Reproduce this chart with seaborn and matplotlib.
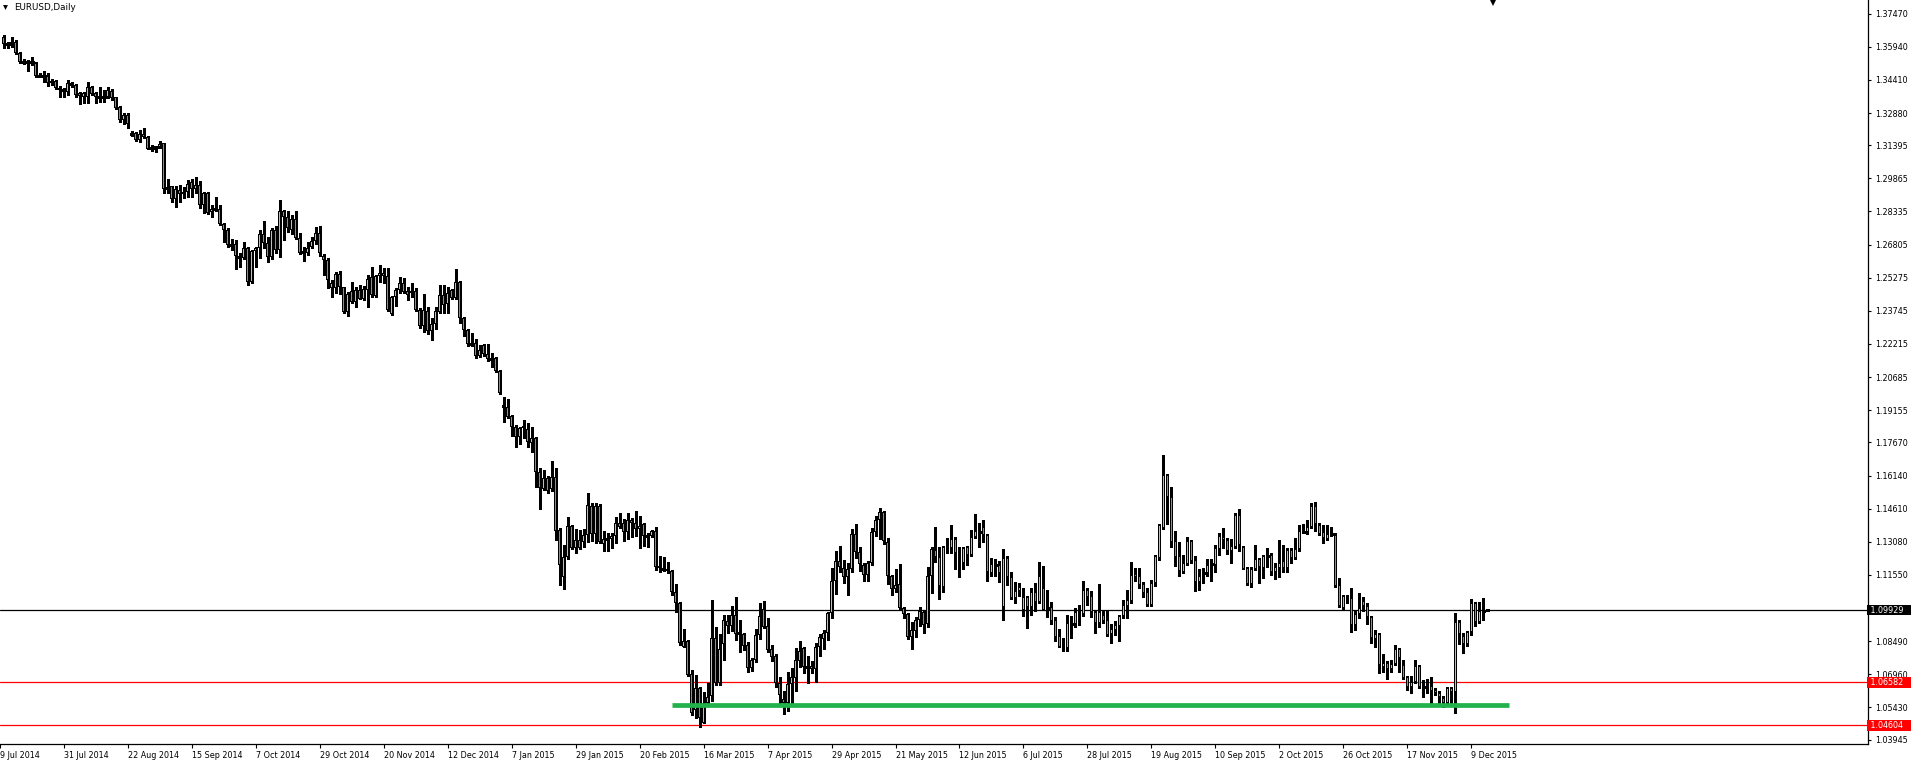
import matplotlib
matplotlib.use("Agg")
import matplotlib.pyplot as plt
import seaborn as sns
import pandas as pd
from matplotlib.lines import Line2D
from matplotlib.transforms import blended_transform_factory

# EURUSD daily candles, 10 Jul 2014 .. 11 Dec 2015 (one row of ten per line)
open_px = [
    1.3638, 1.3607, 1.3605, 1.3615, 1.3567, 1.3525, 1.3525, 1.3524, 1.3519, 1.3459,
    1.3458, 1.3458, 1.3436, 1.3436, 1.3405, 1.3396, 1.3384, 1.3425, 1.3416, 1.3381,
    1.3361, 1.3361, 1.3407, 1.3379, 1.3364, 1.3362, 1.3361, 1.3390, 1.3361, 1.3316,
    1.3254, 1.3278, 1.3190, 1.3194, 1.3162, 1.3191, 1.3177, 1.3128, 1.3131, 1.3130,
    1.3148, 1.2943, 1.2950, 1.2890, 1.2931, 1.2913, 1.2923, 1.2968, 1.2936, 1.2954,
    1.2862, 1.2917, 1.2830, 1.2846, 1.2845, 1.2774, 1.2748, 1.2680, 1.2682, 1.2623,
    1.2617, 1.2663, 1.2506, 1.2650, 1.2663, 1.2728, 1.2686, 1.2622, 1.2748, 1.2655,
    1.2836, 1.2807, 1.2748, 1.2797, 1.2710, 1.2644, 1.2640, 1.2671, 1.2697, 1.2733,
    1.2628, 1.2609, 1.2479, 1.2479, 1.2543, 1.2485, 1.2371, 1.2466, 1.2414, 1.2471,
    1.2431, 1.2471, 1.2531, 1.2445, 1.2534, 1.2549, 1.2535, 1.2359, 1.2437, 1.2469,
    1.2502, 1.2466, 1.2455, 1.2466, 1.2380, 1.2306, 1.2374, 1.2281, 1.2312, 1.2368,
    1.2448, 1.2405, 1.2471, 1.2432, 1.2507, 1.2340, 1.2286, 1.2221, 1.2225, 1.2167,
    1.2215, 1.2174, 1.2152, 1.2158, 1.2098, 1.1935, 1.1929, 1.1889, 1.1837, 1.1791,
    1.1841, 1.1827, 1.1766, 1.1786, 1.1629, 1.1550, 1.1601, 1.1550, 1.1606, 1.1362,
    1.1147, 1.1236, 1.1381, 1.1281, 1.1315, 1.1306, 1.1339, 1.1475, 1.1344, 1.1475,
    1.1298, 1.1320, 1.1320, 1.1335, 1.1396, 1.1393, 1.1352, 1.1407, 1.1393, 1.1366,
    1.1389, 1.1336, 1.1336, 1.1358, 1.1196, 1.1181, 1.1181, 1.1173, 1.1075, 1.1025,
    1.0824, 1.0850, 1.0696, 1.0531, 1.0631, 1.0470, 1.0562, 1.0596, 1.0862, 1.0657,
    1.0835, 1.0942, 1.0921, 1.0970, 1.0885, 1.0882, 1.0831, 1.0727, 1.0762, 1.0878,
    1.0996, 1.0919, 1.0812, 1.0781, 1.0655, 1.0581, 1.0565, 1.0650, 1.0680, 1.0759,
    1.0816, 1.0731, 1.0734, 1.0722, 1.0821, 1.0860, 1.0885, 1.0978, 1.1126, 1.1221,
    1.1188, 1.1144, 1.1181, 1.1343, 1.1262, 1.1201, 1.1153, 1.1209, 1.1352, 1.1409,
    1.1444, 1.1308, 1.1149, 1.1089, 1.1112, 1.1001, 1.0975, 1.0870, 1.0898, 1.0947,
    1.0984, 1.0927, 1.1150, 1.1269, 1.1236, 1.1098, 1.1289, 1.1278, 1.1321, 1.1266,
    1.1209, 1.1283, 1.1246, 1.1332, 1.1353, 1.1375, 1.1339, 1.1162, 1.1200, 1.1200,
    1.1006, 1.1232, 1.1144, 1.1050, 1.1079, 1.0993, 1.1053, 1.1008, 1.1075, 1.1031,
    1.1093, 1.1002, 1.1005, 1.0947, 1.0873, 1.0830, 1.0819, 1.0928, 1.0927, 1.0973,
    1.0976, 1.1084, 1.1056, 1.0984, 1.0932, 1.0970, 1.0947, 1.0881, 1.0901, 1.0921,
    1.0964, 1.1013, 1.1036, 1.1159, 1.1149, 1.1113, 1.1076, 1.1017, 1.1116, 1.1235,
    1.1373, 1.1615, 1.1513, 1.1310, 1.1242, 1.1167, 1.1205, 1.1310, 1.1223, 1.1121,
    1.1165, 1.1165, 1.1204, 1.1202, 1.1276, 1.1330, 1.1316, 1.1267, 1.1286, 1.1432,
    1.1286, 1.1186, 1.1114, 1.1184, 1.1227, 1.1186, 1.1240, 1.1245, 1.1170, 1.1188,
    1.1218, 1.1186, 1.1270, 1.1235, 1.1273, 1.1355, 1.1355, 1.1375, 1.1472, 1.1386,
    1.1353, 1.1322, 1.1343, 1.1338, 1.1107, 1.1001, 1.1053, 1.1047, 1.0922, 1.0973,
    1.1033, 1.1013, 1.0961, 1.0860, 1.0882, 1.0728, 1.0748, 1.0722, 1.0744, 1.0811,
    1.0738, 1.0682, 1.0639, 1.0660, 1.0733, 1.0636, 1.0630, 1.0641, 1.0622, 1.0608,
    1.0587, 1.0562, 1.0631, 1.0613, 1.0936, 1.0874, 1.0835, 1.0890, 1.1024, 1.0936,
    1.0987, 1.0993,
]
high_px = [
    1.3648, 1.3617, 1.3638, 1.3625, 1.3571, 1.3536, 1.3533, 1.3545, 1.3525, 1.3471,
    1.3482, 1.3471, 1.3444, 1.3441, 1.3413, 1.3402, 1.3441, 1.3431, 1.3421, 1.3387,
    1.3385, 1.3433, 1.3413, 1.3385, 1.3410, 1.3394, 1.3410, 1.3398, 1.3363, 1.3320,
    1.3287, 1.3287, 1.3206, 1.3202, 1.3210, 1.3218, 1.3182, 1.3140, 1.3137, 1.3159,
    1.3151, 1.2982, 1.2952, 1.2952, 1.2956, 1.2948, 1.2979, 1.2983, 1.2991, 1.2976,
    1.2925, 1.2925, 1.2863, 1.2899, 1.2863, 1.2779, 1.2756, 1.2706, 1.2702, 1.2640,
    1.2694, 1.2671, 1.2656, 1.2671, 1.2748, 1.2789, 1.2717, 1.2756, 1.2765, 1.2886,
    1.2840, 1.2836, 1.2817, 1.2836, 1.2735, 1.2671, 1.2694, 1.2717, 1.2763, 1.2766,
    1.2636, 1.2617, 1.2517, 1.2555, 1.2560, 1.2486, 1.2463, 1.2509, 1.2486, 1.2494,
    1.2491, 1.2541, 1.2578, 1.2540, 1.2586, 1.2571, 1.2571, 1.2443, 1.2479, 1.2532,
    1.2525, 1.2486, 1.2502, 1.2479, 1.2389, 1.2452, 1.2394, 1.2343, 1.2394, 1.2494,
    1.2494, 1.2483, 1.2475, 1.2568, 1.2512, 1.2348, 1.2289, 1.2271, 1.2243, 1.2217,
    1.2220, 1.2220, 1.2181, 1.2163, 1.2101, 1.1975, 1.1967, 1.1894, 1.1847, 1.1840,
    1.1870, 1.1858, 1.1840, 1.1793, 1.1647, 1.1639, 1.1612, 1.1681, 1.1647, 1.1370,
    1.1293, 1.1424, 1.1384, 1.1366, 1.1362, 1.1366, 1.1532, 1.1486, 1.1489, 1.1482,
    1.1358, 1.1347, 1.1347, 1.1424, 1.1440, 1.1412, 1.1442, 1.1416, 1.1450, 1.1427,
    1.1393, 1.1350, 1.1361, 1.1378, 1.1242, 1.1239, 1.1216, 1.1178, 1.1113, 1.1029,
    1.0904, 1.0854, 1.0716, 1.0694, 1.0639, 1.0616, 1.0655, 1.1039, 1.0916, 1.0882,
    1.0970, 1.0970, 1.1012, 1.1054, 1.0947, 1.0888, 1.0847, 1.0770, 1.0904, 1.1027,
    1.1035, 1.0955, 1.0831, 1.0790, 1.0682, 1.0620, 1.0705, 1.0724, 1.0816, 1.0850,
    1.0821, 1.0781, 1.0757, 1.0839, 1.0881, 1.0901, 1.0985, 1.1186, 1.1265, 1.1289,
    1.1224, 1.1209, 1.1366, 1.1390, 1.1285, 1.1209, 1.1221, 1.1370, 1.1427, 1.1463,
    1.1450, 1.1324, 1.1156, 1.1181, 1.1204, 1.1006, 1.0978, 1.0939, 1.0962, 1.1008,
    1.0990, 1.1190, 1.1283, 1.1375, 1.1283, 1.1290, 1.1324, 1.1386, 1.1329, 1.1283,
    1.1285, 1.1289, 1.1362, 1.1436, 1.1393, 1.1409, 1.1342, 1.1235, 1.1229, 1.1219,
    1.1275, 1.1244, 1.1170, 1.1124, 1.1119, 1.1096, 1.1058, 1.1093, 1.1119, 1.1213,
    1.1196, 1.1085, 1.1030, 1.0962, 1.0904, 1.0865, 1.0970, 1.0965, 1.1004, 1.1016,
    1.1127, 1.1093, 1.1081, 1.0993, 1.1113, 1.0993, 1.0990, 1.0928, 1.0944, 1.0970,
    1.1039, 1.1085, 1.1213, 1.1188, 1.1186, 1.1122, 1.1093, 1.1132, 1.1248, 1.1390,
    1.1709, 1.1621, 1.1562, 1.1359, 1.1306, 1.1247, 1.1332, 1.1316, 1.1244, 1.1182,
    1.1186, 1.1229, 1.1229, 1.1293, 1.1350, 1.1373, 1.1327, 1.1320, 1.1442, 1.1458,
    1.1290, 1.1190, 1.1190, 1.1293, 1.1232, 1.1247, 1.1278, 1.1258, 1.1209, 1.1316,
    1.1293, 1.1278, 1.1278, 1.1324, 1.1386, 1.1389, 1.1409, 1.1486, 1.1490, 1.1393,
    1.1386, 1.1384, 1.1378, 1.1347, 1.1139, 1.1062, 1.1062, 1.1093, 1.0988, 1.1070,
    1.1052, 1.1024, 1.0965, 1.0901, 1.0888, 1.0790, 1.0757, 1.0762, 1.0831, 1.0816,
    1.0762, 1.0688, 1.0690, 1.0762, 1.0738, 1.0670, 1.0673, 1.0685, 1.0631, 1.0620,
    1.0596, 1.0636, 1.0639, 1.0978, 1.0947, 1.0885, 1.0897, 1.1044, 1.1029, 1.1029,
    1.1047, 1.0998,
]
low_px = [
    1.3587, 1.3587, 1.3594, 1.3561, 1.3518, 1.3514, 1.3484, 1.3510, 1.3453, 1.3453,
    1.3433, 1.3414, 1.3417, 1.3399, 1.3361, 1.3363, 1.3371, 1.3407, 1.3363, 1.3330,
    1.3333, 1.3336, 1.3371, 1.3336, 1.3338, 1.3340, 1.3356, 1.3348, 1.3308, 1.3247,
    1.3236, 1.3218, 1.3182, 1.3157, 1.3156, 1.3171, 1.3121, 1.3114, 1.3110, 1.3125,
    1.2917, 1.2917, 1.2876, 1.2855, 1.2879, 1.2894, 1.2902, 1.2902, 1.2917, 1.2848,
    1.2828, 1.2822, 1.2809, 1.2837, 1.2770, 1.2694, 1.2671, 1.2656, 1.2566, 1.2578,
    1.2613, 1.2495, 1.2504, 1.2578, 1.2617, 1.2663, 1.2601, 1.2614, 1.2640, 1.2622,
    1.2702, 1.2740, 1.2729, 1.2706, 1.2637, 1.2606, 1.2632, 1.2663, 1.2683, 1.2628,
    1.2540, 1.2479, 1.2437, 1.2456, 1.2452, 1.2363, 1.2351, 1.2409, 1.2391, 1.2428,
    1.2425, 1.2394, 1.2440, 1.2440, 1.2509, 1.2502, 1.2375, 1.2355, 1.2397, 1.2456,
    1.2458, 1.2423, 1.2440, 1.2375, 1.2297, 1.2278, 1.2266, 1.2240, 1.2289, 1.2363,
    1.2366, 1.2363, 1.2428, 1.2428, 1.2317, 1.2258, 1.2212, 1.2214, 1.2158, 1.2163,
    1.2166, 1.2143, 1.2117, 1.2091, 1.1991, 1.1863, 1.1881, 1.1797, 1.1747, 1.1758,
    1.1786, 1.1747, 1.1724, 1.1562, 1.1458, 1.1547, 1.1535, 1.1544, 1.1316, 1.1108,
    1.1091, 1.1227, 1.1273, 1.1258, 1.1273, 1.1285, 1.1306, 1.1313, 1.1301, 1.1301,
    1.1267, 1.1267, 1.1278, 1.1301, 1.1370, 1.1313, 1.1320, 1.1332, 1.1335, 1.1278,
    1.1289, 1.1285, 1.1332, 1.1178, 1.1170, 1.1173, 1.1165, 1.1062, 1.0985, 1.0831,
    1.0821, 1.0688, 1.0508, 1.0493, 1.0454, 1.0470, 1.0554, 1.0574, 1.0647, 1.0647,
    1.0762, 1.0888, 1.0896, 1.0854, 1.0798, 1.0808, 1.0708, 1.0713, 1.0754, 1.0859,
    1.0908, 1.0800, 1.0759, 1.0636, 1.0562, 1.0513, 1.0528, 1.0562, 1.0620, 1.0731,
    1.0701, 1.0657, 1.0704, 1.0662, 1.0781, 1.0813, 1.0854, 1.0957, 1.1067, 1.1170,
    1.1119, 1.1062, 1.1170, 1.1235, 1.1173, 1.1128, 1.1128, 1.1201, 1.1336, 1.1320,
    1.1296, 1.1113, 1.1062, 1.1077, 1.0998, 1.0955, 1.0859, 1.0813, 1.0870, 1.0921,
    1.0885, 1.0913, 1.1073, 1.1216, 1.1045, 1.1077, 1.1255, 1.1255, 1.1181, 1.1147,
    1.1181, 1.1201, 1.1242, 1.1327, 1.1285, 1.1308, 1.1128, 1.1151, 1.1151, 1.1124,
    1.0947, 1.1108, 1.1044, 1.1027, 1.1059, 1.0967, 1.0911, 1.0970, 1.0988, 1.1027,
    1.0993, 1.0962, 1.0928, 1.0851, 1.0821, 1.0805, 1.0805, 1.0862, 1.0916, 1.0924,
    1.0965, 1.1016, 1.0962, 1.0888, 1.0916, 1.0934, 1.0873, 1.0842, 1.0878, 1.0851,
    1.0957, 1.0957, 1.1024, 1.1127, 1.1093, 1.1054, 1.1013, 1.1012, 1.1104, 1.1224,
    1.1366, 1.1390, 1.1285, 1.1198, 1.1151, 1.1162, 1.1201, 1.1209, 1.1082, 1.1085,
    1.1116, 1.1150, 1.1128, 1.1167, 1.1247, 1.1281, 1.1252, 1.1211, 1.1278, 1.1267,
    1.1181, 1.1110, 1.1100, 1.1178, 1.1116, 1.1139, 1.1193, 1.1155, 1.1135, 1.1147,
    1.1170, 1.1170, 1.1209, 1.1229, 1.1267, 1.1347, 1.1343, 1.1370, 1.1358, 1.1339,
    1.1301, 1.1316, 1.1335, 1.1101, 1.1008, 1.0998, 1.1027, 1.0893, 1.0901, 1.0955,
    1.0990, 1.0930, 1.0839, 1.0824, 1.0703, 1.0708, 1.0673, 1.0708, 1.0739, 1.0708,
    1.0674, 1.0624, 1.0611, 1.0654, 1.0631, 1.0590, 1.0611, 1.0565, 1.0600, 1.0565,
    1.0546, 1.0559, 1.0562, 1.0516, 1.0835, 1.0793, 1.0828, 1.0878, 1.0921, 1.0932,
    1.0947, 1.0988,
]
close_px = [
    1.3607, 1.3607, 1.3616, 1.3564, 1.3522, 1.3525, 1.3525, 1.3524, 1.3459, 1.3459,
    1.3458, 1.3425, 1.3425, 1.3402, 1.3393, 1.3396, 1.3425, 1.3414, 1.3370, 1.3368,
    1.3381, 1.3407, 1.3375, 1.3363, 1.3364, 1.3362, 1.3393, 1.3359, 1.3313, 1.3254,
    1.3279, 1.3236, 1.3190, 1.3162, 1.3191, 1.3176, 1.3123, 1.3128, 1.3131, 1.3145,
    1.2939, 1.2943, 1.2890, 1.2936, 1.2913, 1.2923, 1.2960, 1.2936, 1.2954, 1.2862,
    1.2917, 1.2826, 1.2845, 1.2846, 1.2774, 1.2746, 1.2677, 1.2680, 1.2626, 1.2623,
    1.2663, 1.2509, 1.2651, 1.2665, 1.2728, 1.2686, 1.2622, 1.2748, 1.2655, 1.2834,
    1.2807, 1.2756, 1.2797, 1.2712, 1.2643, 1.2644, 1.2663, 1.2697, 1.2733, 1.2640,
    1.2608, 1.2516, 1.2505, 1.2543, 1.2485, 1.2371, 1.2452, 1.2417, 1.2471, 1.2431,
    1.2475, 1.2522, 1.2446, 1.2535, 1.2549, 1.2534, 1.2380, 1.2438, 1.2471, 1.2502,
    1.2463, 1.2448, 1.2466, 1.2380, 1.2306, 1.2377, 1.2281, 1.2312, 1.2374, 1.2448,
    1.2402, 1.2456, 1.2432, 1.2507, 1.2340, 1.2286, 1.2220, 1.2221, 1.2167, 1.2194,
    1.2174, 1.2151, 1.2152, 1.2097, 1.1994, 1.1935, 1.1886, 1.1837, 1.1791, 1.1832,
    1.1832, 1.1767, 1.1786, 1.1629, 1.1555, 1.1601, 1.1543, 1.1606, 1.1359, 1.1199,
    1.1236, 1.1381, 1.1281, 1.1315, 1.1278, 1.1339, 1.1478, 1.1344, 1.1475, 1.1308,
    1.1320, 1.1320, 1.1335, 1.1396, 1.1378, 1.1352, 1.1407, 1.1393, 1.1366, 1.1381,
    1.1333, 1.1336, 1.1358, 1.1193, 1.1187, 1.1181, 1.1172, 1.1075, 1.1027, 1.0839,
    1.0848, 1.0693, 1.0516, 1.0631, 1.0493, 1.0562, 1.0593, 1.0862, 1.0657, 1.0811,
    1.0947, 1.0921, 1.0970, 1.0881, 1.0885, 1.0828, 1.0727, 1.0762, 1.0878, 1.0965,
    1.0916, 1.0808, 1.0778, 1.0655, 1.0599, 1.0565, 1.0651, 1.0682, 1.0762, 1.0804,
    1.0731, 1.0731, 1.0722, 1.0821, 1.0867, 1.0885, 1.0978, 1.1126, 1.1221, 1.1190,
    1.1144, 1.1181, 1.1343, 1.1262, 1.1204, 1.1153, 1.1209, 1.1352, 1.1409, 1.1444,
    1.1312, 1.1150, 1.1089, 1.1108, 1.1004, 1.0973, 1.0870, 1.0901, 1.0947, 1.0988,
    1.0922, 1.1150, 1.1275, 1.1236, 1.1105, 1.1285, 1.1278, 1.1321, 1.1255, 1.1255,
    1.1278, 1.1246, 1.1332, 1.1358, 1.1353, 1.1338, 1.1167, 1.1204, 1.1200, 1.1162,
    1.1232, 1.1144, 1.1050, 1.1081, 1.1101, 1.1052, 1.1008, 1.1075, 1.1031, 1.1150,
    1.0993, 1.1002, 1.0944, 1.0870, 1.0824, 1.0819, 1.0932, 1.0928, 1.0984, 1.0984,
    1.1084, 1.1054, 1.0982, 1.0932, 1.0984, 1.0944, 1.0878, 1.0904, 1.0922, 1.0964,
    1.1016, 1.1038, 1.1155, 1.1147, 1.1107, 1.1073, 1.1017, 1.1118, 1.1242, 1.1384,
    1.1615, 1.1513, 1.1308, 1.1239, 1.1174, 1.1209, 1.1310, 1.1221, 1.1121, 1.1149,
    1.1165, 1.1200, 1.1204, 1.1279, 1.1333, 1.1315, 1.1267, 1.1289, 1.1433, 1.1293,
    1.1184, 1.1114, 1.1181, 1.1227, 1.1193, 1.1242, 1.1240, 1.1170, 1.1190, 1.1209,
    1.1186, 1.1270, 1.1235, 1.1273, 1.1358, 1.1355, 1.1375, 1.1472, 1.1389, 1.1343,
    1.1324, 1.1344, 1.1343, 1.1104, 1.1013, 1.1056, 1.1045, 1.0922, 1.0975, 1.1001,
    1.1013, 1.0959, 1.0862, 1.0882, 1.0738, 1.0748, 1.0722, 1.0745, 1.0811, 1.0770,
    1.0679, 1.0639, 1.0660, 1.0733, 1.0639, 1.0636, 1.0641, 1.0620, 1.0608, 1.0590,
    1.0565, 1.0631, 1.0613, 1.0936, 1.0881, 1.0835, 1.0891, 1.1024, 1.0936, 1.0990,
    1.0987, 1.0993,
]

# x axis: every 16th bar carries a date label (bar index -1 is 9 Jul 2014)
date_labels = [
    "9 Jul 2014", "31 Jul 2014", "22 Aug 2014", "15 Sep 2014", "7 Oct 2014",
    "29 Oct 2014", "20 Nov 2014", "12 Dec 2014", "7 Jan 2015", "29 Jan 2015",
    "20 Feb 2015", "16 Mar 2015", "7 Apr 2015", "29 Apr 2015", "21 May 2015",
    "12 Jun 2015", "6 Jul 2015", "28 Jul 2015", "19 Aug 2015", "10 Sep 2015",
    "2 Oct 2015", "26 Oct 2015", "17 Nov 2015", "9 Dec 2015",
]
date_bars = list(range(-1, 368, 16))

# right price scale (1.10020 is hidden behind the bid label)
price_ticks = [
    1.37470, 1.35940, 1.34410, 1.32880, 1.31395, 1.29865, 1.28335, 1.26805,
    1.25275, 1.23745, 1.22215, 1.20685, 1.19155, 1.17670, 1.16140, 1.14610,
    1.13080, 1.11550, 1.08490, 1.06960, 1.05430, 1.03945,
]

bid_price = 1.09929
red_levels = [1.06582, 1.04604]
support_level = 1.05528
support_bars = [167, 376.5]

BULL = "#87CEEB"
BEAR = "#CD7272"
SUPPORT = "#22B14C"

df = pd.DataFrame({"open": open_px, "high": high_px, "low": low_px, "close": close_px})
df["bar"] = range(len(df))
df["top"] = df[["open", "close"]].max(axis=1)
df["bot"] = df[["open", "close"]].min(axis=1)

sns.set_theme(style="white")
plt.rcParams["font.family"] = ["DejaVu Sans"]

W, H = 1911, 764
fig = plt.figure(figsize=(W / 100, H / 100), dpi=100)
fig.patch.set_facecolor("white")
ax_w, ax_h = 1868, 744
ax = fig.add_axes([0, (H - ax_h) / H, ax_w / W, ax_h / H])
ax.set_facecolor("white")

# one bar = 4 px, first candle centred 3 px from the left edge
y_top = 1.38099
y_bot = y_top - ax_h * 0.0004618
ax.set_xlim(-0.75, -0.75 + ax_w / 4)
ax.set_ylim(y_bot, y_top)
px = (y_top - y_bot) / ax_h  # one screen pixel in price units

# wicks
ax.vlines(df["bar"], df["low"], df["high"], color="black", lw=0.8, zorder=2, antialiased=False)

# bodies: black 3 px block with 1 px coloured core
body = df[df["top"] > df["bot"]]
ax.bar(body["bar"], (body["top"] - body["bot"]).clip(lower=px), bottom=body["bot"],
       width=0.75, color="black", linewidth=0, zorder=3, antialiased=False)
for mask, col in [(body["close"] > body["open"], BULL), (body["close"] < body["open"], BEAR)]:
    sub = body[mask & ((body["top"] - body["bot"]) > 2.5 * px)]
    ax.bar(sub["bar"], sub["top"] - sub["bot"] - 2 * px, bottom=sub["bot"] + px,
           width=0.25, color=col, linewidth=0, zorder=4, antialiased=False)

flat = df[df["close"] == df["open"]]
ax.hlines(flat["close"], flat["bar"] - 0.4, flat["bar"] + 0.4, color="black",
          lw=1.0, zorder=3, antialiased=False)

# level lines
ax.axhline(bid_price, color="black", lw=0.9, zorder=1)
for lvl in red_levels:
    ax.axhline(lvl, color="red", lw=0.9, zorder=1)
ax.plot(support_bars, [support_level, support_level], color=SUPPORT, lw=3.4,
        solid_capstyle="butt", zorder=5, clip_on=False)

# axes styling
for side in ["top", "left"]:
    ax.spines[side].set_visible(False)
for side in ["right", "bottom"]:
    ax.spines[side].set_color("black")
    ax.spines[side].set_linewidth(0.9)

ax.yaxis.tick_right()
ax.set_yticks(price_ticks)
ax.set_yticklabels([f"{v:.5f}" for v in price_ticks])
ax.tick_params(axis="y", direction="out", length=2.5, width=0.8, pad=3,
               labelsize=5.8, colors="black", right=True, left=False)

ax.set_xticks(date_bars)
ax.set_xticklabels(date_labels, ha="left")
ax.tick_params(axis="x", direction="out", length=3, width=0.8, pad=2,
               labelsize=5.8, colors="black", bottom=True)
ax.grid(False)

# price boxes on the scale
trans = blended_transform_factory(ax.transAxes, ax.transData)
for lvl, fc in [(bid_price, "black")] + [(v, "red") for v in red_levels]:
    ax.text(1.0, lvl, f" {lvl:.5f}   ", transform=trans, ha="left", va="center",
            fontsize=5.8, color="white", zorder=10, clip_on=False,
            bbox=dict(boxstyle="square,pad=0.12", fc=fc, ec="none"))

# header and chart-shift marker
fig.text(14 / W, 1 - 7.5 / H, "EURUSD,Daily", fontsize=6.3, ha="left", va="center", color="black")
fig.add_artist(Line2D([5 / W], [1 - 6.5 / H], marker="v", markersize=3.5, color="black",
                      markeredgewidth=0, transform=fig.transFigure))
fig.add_artist(Line2D([1493 / W], [1 - 1 / H], marker="v", markersize=7, color="black",
                      markeredgewidth=0, transform=fig.transFigure))

fig.savefig("out.png", dpi=100, facecolor="white")
